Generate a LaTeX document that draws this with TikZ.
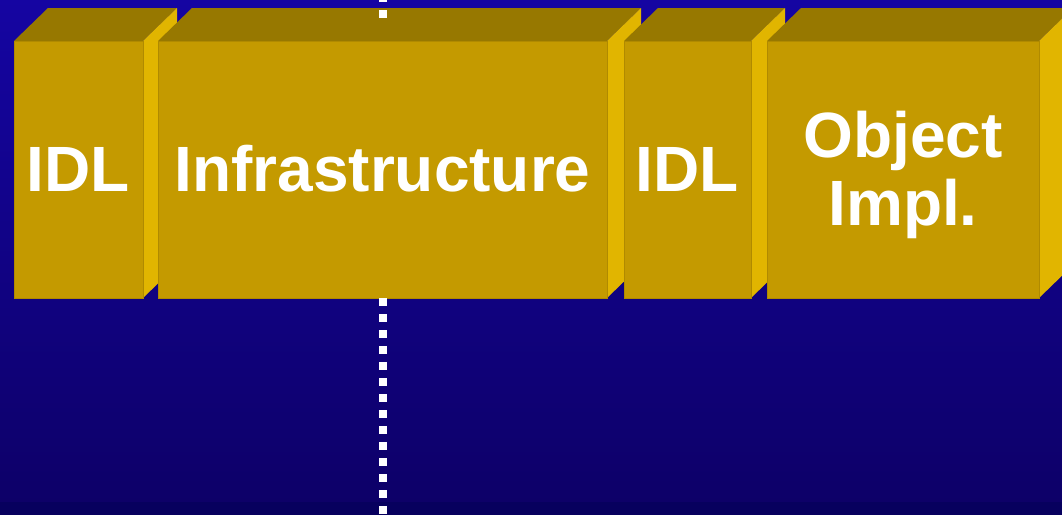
\documentclass[tikz,border=0pt]{standalone}
\usepackage{fontspec}
\setmainfont{Liberation Sans}
\definecolor{bgtop}{HTML}{1505A2}
\definecolor{bgbot}{HTML}{0D0068}
\definecolor{bgband}{HTML}{07005E}
\definecolor{goldfront}{HTML}{C49A00}
\definecolor{goldedge}{HTML}{B08A00}
\definecolor{goldtop}{HTML}{977800}
\definecolor{goldside}{HTML}{E1B500}
\tikzset{
  front/.style={rectangle, fill=goldfront, draw=goldedge, line width=0.8pt,
    minimum height=257pt, inner sep=0pt},
  lbl/.style={anchor=base, inner sep=0pt, text=white,
    font=\bfseries\fontsize{64}{68}\selectfont},
  topface/.style={fill=goldtop},
  sideface/.style={fill=goldside},
  divider/.style={white, line width=8pt, dash pattern=on 8pt off 8pt}
}
% one 3-D block: top face, right face, then the front face
\newcommand\goldblock[3]{% name, left x, right x
  \path[topface] (#2,41) -- ++(34,-33) -- (#3+34,8) -- (#3,41) -- cycle;
  \path[sideface] (#3,41) -- ++(34,-33) -- ++(0,257) -- (#3,298) -- cycle;
  \node[front, minimum width={#3-#2}] (#1) at ({(#2+#3)/2},169.5) {};
}
\begin{document}
\begin{tikzpicture}[x=1pt,y=-1pt]
  \useasboundingbox (0,0) rectangle (1062,515);
  % background
  \shade[top color=bgtop, bottom color=bgbot] (0,0) rectangle (1062,502);
  \fill[bgband] (0,502) rectangle (1062,515);
  % blocks, left to right
  \goldblock{idla}{14}{143}
  \goldblock{infra}{158}{607}
  \goldblock{idlb}{624}{751}
  \goldblock{impl}{767}{1039}
  % labels, set on their baselines
  \node[lbl] (idla-t)  at ([yshift=-21.5pt]idla.center)  {IDL};
  \node[lbl] (infra-t) at ([yshift=-21.5pt]infra.center) {Infrastructure};
  \node[lbl] (idlb-t)  at ([yshift=-21.5pt]idlb.center)  {IDL};
  \node[lbl] (impl-t1) at ([yshift=12.5pt]impl.center)   {Object};
  \node[lbl] (impl-t2) at ([yshift=-55.5pt]impl.center)  {Impl.};
  % dotted dividing line
  \coordinate (dtop) at (383,-6);
  \coordinate (dtopend) at (383,18);
  \coordinate (dbot) at (383,298);
  \coordinate (dbotend) at (383,515);
  \draw[divider] (dtop) -- (dtopend);
  \draw[divider] (dbot) -- (dbotend);
\end{tikzpicture}
\end{document}
